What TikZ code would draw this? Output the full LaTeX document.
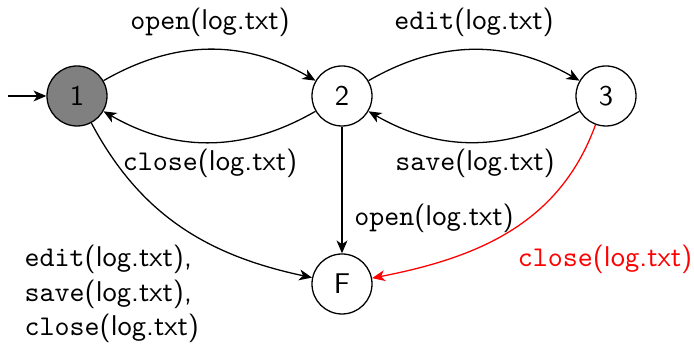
\documentclass[tikz,border=0pt]{standalone}
\usetikzlibrary{arrows.meta}

\newcommand{\act}[1]{\texttt{#1}(log.txt)}

\tikzset{
  statenode/.style={circle, draw, minimum size=21pt, inner sep=0pt, font=\sffamily},
  finalnode/.style={statenode},
  initnode/.style={statenode, fill=black!50},
  lbl/.style={font=\sffamily, inner sep=0pt},
  trans/.style={-{Stealth[length=4.5pt,width=3.8pt,inset=1.3pt]}},
}

\begin{document}
\begin{tikzpicture}[x=0.35pt, y=0.35pt, line width=0.45pt]
  \useasboundingbox (0,0) rectangle (694,344);

  % states
  \node[initnode]  (n1) at (77,248)  {1};
  \node[statenode] (n2) at (342,248) {2};
  \node[statenode] (n3) at (606,248) {3};
  \node[finalnode] (nF) at (342,60)  {F};
  \coordinate (start) at (8,248);

  % transitions
  \draw[trans] (start) -- (n1);
  \draw[trans] (n1) to[bend left=30] (n2);
  \draw[trans] (n2) to[bend left=30] (n1);
  \draw[trans] (n2) to[bend left=30] (n3);
  \draw[trans] (n3) to[bend left=30] (n2);
  \draw[trans] (n2) -- (nF);
  \draw[trans] (n1) to[out=-62, in=168] (nF);
  \draw[trans, red] (n3) to[out=-110, in=11] (nF);

  % transition labels
  \node[lbl] (l12) at (210,322) {\act{open}};
  \node[lbl] (l23) at (474,322) {\act{edit}};
  \node[lbl] (l21) at (210,181) {\act{close}};
  \node[lbl] (l32) at (475,181) {\act{save}};
  \node[lbl] (l2F) at (434,126) {\act{open}};
  \node[lbl, text=red] (l3F) at (605,85) {\act{close}};
  \node[lbl, anchor=west, align=left] (l1F) at (24,50)
    {\act{edit},\\ \act{save},\\ \act{close}};
\end{tikzpicture}
\end{document}
